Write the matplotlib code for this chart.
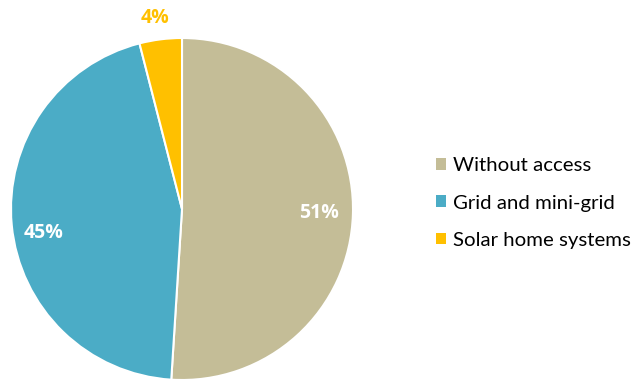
import numpy as np
import matplotlib.pyplot as plt
from matplotlib.patches import Patch

plt.rcParams['font.family'] = ['Lato', 'DejaVu Sans']

categories = ["Without access", "Grid and mini-grid", "Solar home systems"]
shares = [51, 45, 4]
colors = ["#C4BD97", "#4BACC6", "#FFC000"]

# label placement: (radius, angle offset in degrees) per wedge
label_pos = [(0.80, 0.0), (0.82, 4.5), (1.13, 0.8)]
label_colors = ["white", "white", "#FFC000"]

W, H = 637, 379
fig = plt.figure(figsize=(W / 100, H / 100), dpi=100)

R = 171
cx, cy = 182, 209
ax = fig.add_axes([(cx - R) / W, (H - cy - R) / H, 2 * R / W, 2 * R / H])

wedges, _ = ax.pie(
    shares,
    colors=colors,
    startangle=90,
    counterclock=False,
    radius=1.0,
    wedgeprops=dict(edgecolor="white", linewidth=1.5),
)
ax.set_xlim(-1, 1)
ax.set_ylim(-1, 1)
ax.set_aspect("equal")
ax.axis("off")

for w, val, (r, dang), c in zip(wedges, shares, label_pos, label_colors):
    ang = np.deg2rad((w.theta1 + w.theta2) / 2 + dang)
    ax.text(r * np.cos(ang), r * np.sin(ang), f"{val}%",
            ha="center", va="center", color=c,
            fontsize=14, fontweight="bold", family=["Open Sans", "DejaVu Sans"],
            clip_on=False)

handles = [Patch(facecolor=c, edgecolor="none") for c in colors]
fig.legend(
    handles, categories,
    loc="center left",
    bbox_to_anchor=(436 / W, 1 - 203 / H),
    frameon=False,
    fontsize=14.7,
    borderpad=0,
    borderaxespad=0,
    handlelength=0.5,
    handleheight=0.5,
    handletextpad=0.35,
    labelspacing=1.0,
)

fig.savefig("out.png", dpi=100)
